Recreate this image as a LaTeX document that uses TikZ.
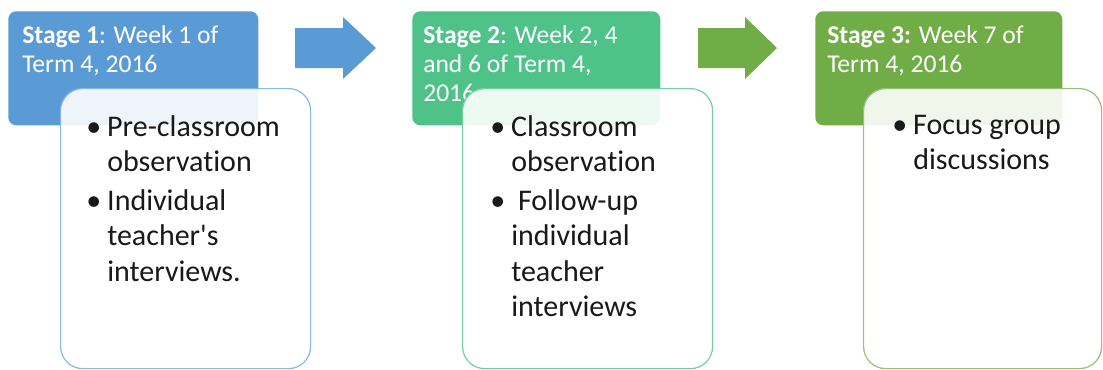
\documentclass[tikz,border=0pt]{standalone}
\usepackage{fontspec}
\setmainfont{Carlito}[Ligatures=NoCommon]
\usepackage{tikz}

\definecolor{stblue}{HTML}{5B9BD5}
\definecolor{stteal}{HTML}{4FC28A}
\definecolor{stgreen}{HTML}{70AD47}
\definecolor{lnblue}{HTML}{8AB8E2}
\definecolor{lnteal}{HTML}{74D0A2}
\definecolor{lngreen}{HTML}{93C374}

\newcommand{\stagebul}{\makebox[15.75pt][l]{\textbullet}}
\newcommand{\stageind}{\hspace*{15.75pt}}

\begin{document}
\begin{tikzpicture}[x=0.75pt,y=-0.75pt,
    head/.style={fill=#1, rounded corners=6pt, anchor=north west, inner sep=0, minimum height=85.5pt},
    body/.style={draw=#1, line width=0.9pt, fill=white, fill opacity=0.9, rounded corners=16.5pt, anchor=north west, inner sep=0, minimum height=210pt},
    htext/.style={anchor=north west, inner sep=0, align=left, text=white, font=\fontsize{19.2pt}{21.75pt}\selectfont},
    btext/.style={anchor=north west, inner sep=0, align=left, text=black!90, font=\fontsize{22.5pt}{26.6pt}\selectfont},
    blockarrow/.style={fill=#1, draw=none}]
    \useasboundingbox (0,0) rectangle (1103,369);

    \node[head=stblue, minimum width=187.5pt] (h1) at (8,11) {};
    \node[htext] (ht1) at (22,25) {\textbf{Stage 1}: Week 1 of\\Term 4, 2016};
    \node[body=lnblue, minimum width=187.5pt] (b1) at (60,88) {};
    \node[btext] (bt1) at (86,115) {\stagebul Pre-classroom\\\stageind observation\\[2.5pt]
        \stagebul Individual\\\stageind teacher\textquotesingle s\\\stageind interviews.};

    \node[head=stteal, minimum width=186pt] (h2) at (412,11) {};
    \node[htext] (ht2) at (423,25) {\textbf{Stage 2}: Week 2, 4\\and 6 of Term 4,\\2016};
    \node[body=lnteal, minimum width=187.5pt] (b2) at (462,88) {};
    \node[btext] (bt2) at (490,115) {\stagebul Classroom\\\stageind observation\\[2.5pt]
        \stagebul\ Follow-up\\\stageind individual\\\stageind teacher\\\stageind interviews};

    \node[head=stgreen, minimum width=185.25pt] (h3) at (815,11) {};
    \node[htext] (ht3) at (827,25) {\textbf{Stage 3:} Week 7 of\\Term 4, 2016};
    \node[body=lngreen, minimum width=178.5pt] (b3) at (863,88) {};
    \node[btext] (bt3) at (892,115) {\stagebul Focus group\\\stageind discussions};

    \fill[blockarrow=stblue] (295,28) -- (343,28) -- (343,17) -- (376,48) -- (343,79) -- (343,68) -- (295,68) -- cycle;
    \fill[blockarrow=stgreen] (698,28) -- (745,28) -- (745,17) -- (777,48) -- (745,79) -- (745,68) -- (698,68) -- cycle;
\end{tikzpicture}
\end{document}
